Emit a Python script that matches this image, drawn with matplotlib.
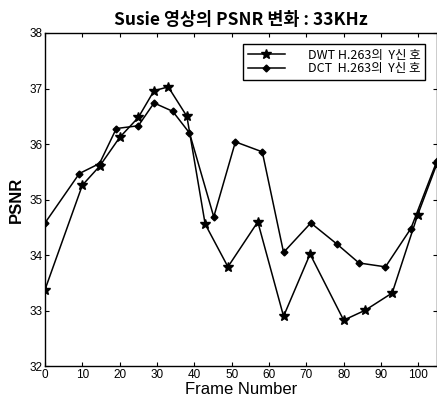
"""
plot.py - Susie sequence PSNR per frame, DWT vs DCT H.263 (Y signal).
"""

import matplotlib
matplotlib.use("Agg")
import matplotlib.pyplot as plt

# DWT H.263 (star markers)
dwt_frames = [0, 10, 14.6, 20, 25, 29.2, 33, 38, 42.9, 49, 57, 63.9, 71, 80, 85.8, 93, 99.8, 105]
dwt_psnr = [33.38, 35.26, 35.6, 36.12, 36.48, 36.96, 37.03, 36.5, 34.56, 33.79, 34.6,
            32.9, 34.02, 32.83, 33.01, 33.32, 34.72, 35.65]

# DCT H.263 (diamond markers)
dct_frames = [0, 9.2, 14.6, 19.1, 25, 29.2, 34.2, 38.7, 45.2, 51, 58.2, 63.9, 71.2, 78.2, 84.1, 91.2, 98, 105]
dct_psnr = [34.58, 35.47, 35.65, 36.28, 36.33, 36.74, 36.59, 36.2, 34.69, 36.04, 35.86,
            34.05, 34.58, 34.2, 33.86, 33.79, 34.48, 35.7]

x_ticks = [0, 10, 20, 30, 40, 50, 60, 70, 80, 90, 100]
y_ticks = [32, 33, 34, 35, 36, 37, 38]

labels = ["DWT H.263의  Y신 호", "DCT  H.263의  Y신 호"]
title = "Susie 영상의 PSNR 변화 : 33KHz"

KR = ["Noto Sans CJK KR", "DejaVu Sans"]
NARROW = ["Liberation Sans Narrow", "Liberation Sans", "DejaVu Sans"]

fig = plt.figure(figsize=(4.37, 4.07), dpi=100)
ax = fig.add_axes([0.103, 0.1, 0.897, 0.819])

ax.plot(dwt_frames, dwt_psnr, color="black", linewidth=1.1, marker="*",
        markersize=7, label=labels[0])
ax.plot(dct_frames, dct_psnr, color="black", linewidth=1.1, marker="D",
        markersize=3.5, label=labels[1])

ax.set_xlim(0, 105)
ax.set_ylim(32, 38)
ax.set_xticks(x_ticks)
ax.set_yticks(y_ticks)
ax.tick_params(direction="in", top=True, right=True, length=3, width=0.8,
               labelsize=8.5, pad=2)
for lab in ax.get_xticklabels() + ax.get_yticklabels():
    lab.set_family(NARROW)

ax.set_xlabel("Frame Number", fontsize=12, family=NARROW, labelpad=1)
ax.set_ylabel("PSNR", fontsize=12, fontweight="bold", family=["Liberation Sans", "DejaVu Sans"], labelpad=4)
ax.set_title(title, fontsize=12.5, fontweight="bold", family=KR, pad=6)

for s in ax.spines.values():
    s.set_linewidth(1.0)

leg = ax.legend(loc="upper right", prop={"family": KR, "size": 9},
                fancybox=False, framealpha=1, edgecolor="black",
                handlelength=3.0, borderpad=0.35, labelspacing=0.05,
                handletextpad=1.8, bbox_to_anchor=(0.985, 0.985))
leg.get_frame().set_linewidth(1.0)

fig.savefig("out.png", dpi=100)
